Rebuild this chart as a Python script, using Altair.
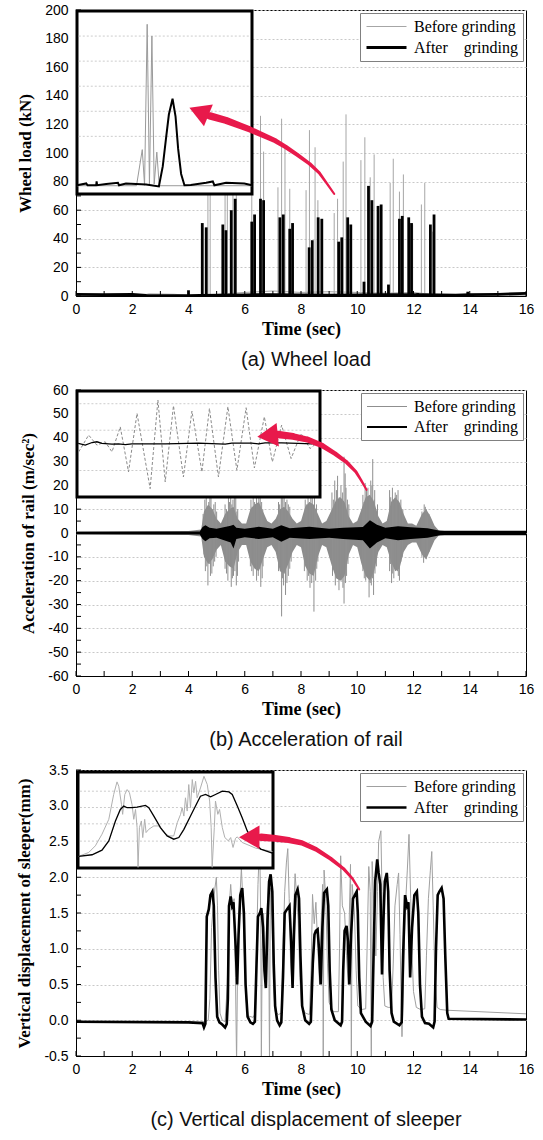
import altair as alt
import pandas as pd

W, H = 450, 286
S_BEFORE = "Before grinding"
S_AFTER = "After\u00a0\u00a0\u00a0\u00a0grinding"
SERIES = [S_BEFORE, S_AFTER]
RED = "#e8194b"

# ---------------- (a) wheel load ----------------
wl_after_spikes = [(4.49, 51), (4.63, 48), (5.22, 50), (5.33, 46), (5.52, 60), (5.66, 68),
                   (6.25, 52), (6.35, 57), (6.56, 68), (6.67, 67), (7.25, 55), (7.37, 57),
                   (7.6, 47), (7.7, 51), (8.29, 34), (8.4, 39), (8.61, 55), (8.74, 54),
                   (9.34, 38), (9.45, 41), (9.66, 55), (9.77, 50), (10.24, 10), (10.4, 77),
                   (10.52, 67), (10.74, 63), (10.85, 64), (11.11, 8), (11.5, 54), (11.6, 56),
                   (11.83, 55), (11.93, 51), (12.15, 2), (12.6, 50), (12.73, 57), (4.0, 4), (13.93, 3)]
wl_before_spikes = [(4.69, 115), (4.77, 125), (5.3, 110), (5.38, 118), (5.58, 100), (5.7, 92),
                    (6.25, 94), (6.56, 126), (6.67, 101), (7.18, 76), (7.31, 124), (7.43, 104),
                    (7.6, 75), (8.18, 74), (8.3, 116), (8.5, 104), (8.6, 67), (9.18, 58),
                    (9.3, 68), (9.5, 94), (9.6, 127), (10.13, 95), (10.27, 111), (10.46, 83),
                    (10.6, 99), (11.17, 79), (11.28, 96), (11.5, 73), (11.64, 85), (11.97, 50),
                    (12.28, 64), (12.4, 79), (12.68, 45)]
wl_after_base = [(0, 1.2), (1, 1.0), (2, 1.1), (2.5, 0.5), (3.5, 0.2), (4.0, 0.3), (4.4, 0.4),
                 (6.0, 0.8), (7, 1.0), (8, 0.8), (9, 0.6), (10, 0.8), (11, 0.9), (12, 1.0),
                 (12.9, 0.8), (13.5, 0.6), (14, 0.9), (15, 1.2), (16, 1.8)]
wl_before_base = [(0, 0.3), (2.3, 0.4), (2.6, 1.5), (3.5, 1.2), (4.0, 0.4), (4.6, 0.6), (6.0, 2.5),
                  (7.0, 3.5), (8.0, 2.5), (9.0, 3.0), (10.0, 2.5), (11, 2.0), (12, 2.5),
                  (12.8, 0.8), (16, 0.5)]
ia_before = [(0, 0.3), (34.0, 0.3), (37.3, 14.7), (38.6, 0.5), (40.1, 64.7), (41.4, 1.0),
             (42.8, 60.0), (44.1, 1.0), (45.6, 13.7), (47.0, 0.3), (100, 0.3)]
ia_after = [(0, 0.5), (5.3, 1.2), (6, 0.5), (11, 0.6), (11.2, 2.0), (11.5, 0.5), (16.7, 1.0),
            (23.4, 1.5), (24, 0.5), (28, 1.2), (39.5, 0.8), (46.8, 0.0), (49, 8), (51, 20),
            (52.5, 28.7), (54.6, 35), (56.3, 28), (57.8, 15), (59.5, 5), (61.4, 0.5), (65, 0.6),
            (73.8, 1.5), (77.6, 2.0), (78.5, 0.5), (85.2, 1.5), (95.6, 1.2), (100, 0.5)]
ia_grid = [10, 20, 30, 40, 50, 60]
arrow_a = [(9.18, 71.4, 2.0), (8.93, 78.4, 2.5), (8.65, 86.1, 3.0), (8.31, 92.4, 3.5), (7.87, 98.7, 4.0),
           (7.45, 104.3, 4.5), (7.09, 108.5, 5.0), (6.63, 112.6, 5.5), (6.18, 116.5, 6.0),
           (5.86, 118.9, 6.4), (5.33, 122.8, 7.0), (4.76, 125.9, 7.5)]
head_a = [(4.37, 129.0)]

# ---------------- (b) acceleration ----------------
acc_core_t = [0.0, 4.0, 4.45, 4.55, 4.7, 4.85, 5.0, 5.15, 5.3, 5.45, 5.6, 5.75, 5.9, 6.05, 6.2, 6.35,
              6.5, 6.65, 6.8, 6.95, 7.1, 7.25, 7.4, 7.55, 7.7, 7.85, 8.0, 8.15, 8.3, 8.45, 8.6, 8.75,
              8.9, 9.1, 9.25, 9.4, 9.55, 9.7, 9.85, 10.0, 10.15, 10.3, 10.45, 10.6, 10.75, 10.9,
              11.05, 11.2, 11.35, 11.5, 11.65, 11.8, 11.95, 12.1, 12.3, 12.45, 12.6, 12.75, 12.9, 13.0, 16.0]
acc_core_hi = [0.6, 0.8, 1.5, 9, 12, 10, 6, 4, 8, 10, 11, 6, 4, 4, 10, 12, 13, 9, 5, 4, 6, 10, 11, 9,
               6, 4, 5, 11, 13, 12, 8, 4, 5, 10, 14, 15, 13, 7, 4, 5, 10, 15, 16, 13, 7, 4, 5, 13, 15,
               13, 8, 4, 4, 3, 8, 10, 7, 3, 1, 0.6, 0.6]
acc_core_lo = [-0.6, -0.8, -1.5, -10, -13, -11, -7, -5, -12, -14, -15, -8, -5, -5, -12, -15, -16, -11,
               -6, -5, -8, -16, -17, -13, -8, -5, -6, -14, -17, -18, -10, -5, -6, -14, -19, -20, -18,
               -9, -5, -6, -13, -18, -20, -16, -8, -5, -6, -12, -16, -15, -8, -5, -4, -4, -9, -11,
               -7, -3, -1, -0.6, -0.6]
acc_spikes_up = [(4.58, 14), (4.63, 17), (4.72, 13), (4.8, 15), (4.9, 12), (5.0, 9), (5.3, 12),
                 (5.42, 16), (5.5, 18), (5.58, 14), (5.68, 15), (5.75, 10), (6.22, 14), (6.3, 16),
                 (6.42, 18), (6.5, 15), (6.6, 13), (7.2, 13), (7.3, 15), (7.4, 16), (7.5, 14),
                 (7.6, 11), (8.15, 14), (8.25, 16), (8.35, 17), (8.48, 15), (8.55, 12), (9.1, 17),
                 (9.2, 22), (9.3, 24), (9.42, 20), (9.53, 32), (9.6, 19), (9.7, 12), (10.2, 16),
                 (10.28, 21), (10.38, 19), (10.48, 22), (10.55, 31), (10.62, 18), (10.72, 12),
                 (11.15, 18), (11.25, 19), (11.35, 17), (11.45, 18), (11.55, 14), (11.62, 10),
                 (12.3, 9), (12.38, 12), (12.45, 10), (12.55, 8),
                 (4.52, 8), (4.67, 11), (4.76, 16), (4.85, 10), (4.95, 13), (5.35, 10), (5.46, 13),
                 (5.54, 12), (5.63, 17), (5.72, 9), (6.26, 11), (6.35, 13), (6.46, 12), (6.55, 17),
                 (6.64, 10), (7.24, 12), (7.35, 18), (7.45, 13), (7.55, 12), (8.19, 12), (8.3, 13),
                 (8.4, 19), (8.52, 10), (9.15, 14), (9.26, 18), (9.36, 15), (9.48, 17), (9.57, 25),
                 (9.65, 14), (10.24, 13), (10.33, 18), (10.44, 15), (10.52, 20), (10.6, 14),
                 (10.66, 10), (11.19, 15), (11.3, 13), (11.4, 16), (11.5, 12), (12.34, 8),
                 (12.42, 11), (12.5, 7)]
acc_spikes_dn = [(4.6, -16), (4.69, -22), (4.78, -18), (4.88, -14), (4.98, -10), (5.3, -15),
                 (5.4, -20), (5.52, -22.6), (5.6, -18), (5.7, -22), (5.78, -12), (6.2, -14),
                 (6.3, -18), (6.42, -20), (6.57, -22.6), (6.65, -14), (7.2, -16), (7.31, -35),
                 (7.38, -22), (7.45, -26), (7.55, -18), (7.65, -12), (8.12, -16), (8.22, -20),
                 (8.32, -23), (8.46, -33), (8.52, -20), (8.6, -12), (9.12, -18), (9.22, -22),
                 (9.35, -24), (9.45, -20), (9.53, -29.6), (9.62, -18), (10.2, -16), (10.3, -20),
                 (10.42, -27), (10.5, -22), (10.58, -26), (10.68, -14), (11.15, -16), (11.22, -21),
                 (11.3, -19), (11.43, -16), (11.5, -20), (11.6, -10), (12.3, -10), (12.36, -12.5),
                 (12.45, -11), (12.55, -8),
                 (4.55, -9), (4.65, -14), (4.74, -13), (4.83, -17), (4.93, -12), (5.35, -17),
                 (5.46, -13), (5.56, -19), (5.65, -16), (5.74, -18), (6.25, -16), (6.36, -13),
                 (6.48, -18), (6.53, -15), (6.62, -19), (7.24, -14), (7.34, -19), (7.42, -17),
                 (7.5, -21), (7.6, -15), (8.17, -13), (8.27, -18), (8.38, -21), (8.43, -17),
                 (8.56, -15), (9.17, -15), (9.28, -19), (9.4, -17), (9.49, -23), (9.58, -21),
                 (9.67, -13), (10.25, -19), (10.35, -17), (10.46, -21), (10.54, -19), (10.63, -17),
                 (11.18, -13), (11.26, -17), (11.35, -15), (11.46, -18), (11.55, -12), (12.33, -8),
                 (12.4, -10), (12.5, -9)]
acc_after_t = [0, 4.4, 4.5, 4.6, 4.75, 5.0, 5.5, 5.6, 5.7, 6.0, 6.5, 7.0, 7.3, 7.6, 8.3, 9.0, 9.5,
               10.2, 10.45, 10.7, 11.0, 11.45, 11.9, 12.5, 12.9, 13.1, 16]
acc_after_hi = [0.5, 0.6, 2.5, 3.2, 2.2, 1.8, 3.0, 3.5, 2.2, 1.8, 2.6, 1.8, 3.3, 2.0, 2.6, 1.8, 2.2,
                2.5, 5.4, 3.5, 2.2, 2.8, 2.4, 2.0, 1.0, 0.9, 0.9]
acc_after_lo = [-0.5, -0.6, -2.5, -3.5, -2.2, -2.0, -4.0, -6.5, -2.5, -1.8, -2.5, -1.8, -3.7, -2.0,
                -2.5, -2.0, -2.5, -3.0, -6.5, -4.0, -2.2, -3.0, -2.5, -2.0, -1.0, -0.9, -0.9]
ib_before = [(0.7, 42.6), (4.8, 58.4), (8.2, 48.9), (11.6, 52.1), (14.4, 42.6), (17.8, 66.2),
             (21.2, 23.7), (24.7, 78.9), (30.1, 7.9), (33.3, 91.5), (36.3, 14.2), (39.7, 86.1),
             (43.8, 18.9), (47.3, 81.1), (51.4, 23.7), (54.5, 83.6), (58.2, 18.9), (62.1, 85.2),
             (65.8, 25.2), (69.6, 84.2), (73.0, 27.4), (77.1, 75.7), (80.4, 33.1), (84.2, 67.8),
             (88.1, 36.3), (92.2, 59.9), (95.9, 45.7), (99.3, 52.0)]
ib_after = [(0.5, 50.5), (3.4, 48.9), (6.2, 51.4), (8.2, 52.1), (10.3, 50.5), (14.4, 49.8),
            (17.1, 50.2), (19.9, 49.5), (22.6, 50.2), (36.3, 50.2), (50.0, 50.8), (61.0, 49.8),
            (63.7, 50.8), (71.9, 50.8), (74.7, 50.2), (77.4, 51.1), (84.2, 51.1), (91.1, 50.5),
            (96.6, 50.2), (99.3, 52.1)]
ib_grid = [25, 63, 88]
arrow_b = [(10.33, 18.1, 2.0), (10.13, 22.3, 2.6), (9.95, 25.7, 3.2), (9.6, 29.9, 3.9), (9.21, 33.3, 4.6),
           (8.75, 36.7, 5.3), (8.23, 39.2, 6.0), (7.72, 40.5, 6.8), (7.18, 41.3, 7.5)]
head_b = [(6.81, 40.8)]

# ---------------- (c) displacement ----------------
disp_after = [(0, -0.02), (4.0, -0.03), (4.5, -0.04), (4.55, -0.1), (4.6, -0.05),
              (4.65, 1.45), (4.72, 1.55), (4.78, 1.75), (4.85, 1.8), (4.9, 1.6), (4.96, 0.6), (5.02, 0.05),
              (5.1, -0.03), (5.2, -0.06), (5.3, -0.1), (5.36, -0.05),
              (5.4, 0.3), (5.44, 1.6), (5.5, 1.73), (5.55, 1.6), (5.6, 1.65), (5.68, 1.0), (5.73, 0.5),
              (5.78, 1.2), (5.84, 1.75), (5.91, 1.85), (5.97, 1.5), (6.03, 0.5), (6.1, 0.05), (6.2, -0.03),
              (6.29, -0.05), (6.36, -0.02),
              (6.42, 0.8), (6.47, 1.45), (6.54, 1.5), (6.59, 1.57), (6.65, 1.3), (6.7, 0.7), (6.75, 0.45),
              (6.81, 1.4), (6.87, 1.95), (6.92, 2.04), (6.98, 1.8), (7.03, 0.8), (7.08, 0.2), (7.15, 0.0),
              (7.24, -0.07), (7.3, -0.03),
              (7.36, 0.6), (7.42, 1.5), (7.5, 1.55), (7.59, 1.6), (7.65, 1.1), (7.7, 0.45), (7.75, 1.2),
              (7.8, 1.75), (7.88, 1.83), (7.93, 1.7), (7.98, 0.9), (8.04, 0.2), (8.15, 0.0), (8.29, -0.05),
              (8.35, -0.02),
              (8.42, 0.8), (8.48, 1.2), (8.53, 1.25), (8.59, 1.27), (8.64, 1.0), (8.7, 0.5), (8.76, 1.3),
              (8.82, 1.78), (8.92, 1.83), (8.97, 1.6), (9.02, 0.7), (9.08, 0.15), (9.2, 0.0), (9.41, -0.07),
              (9.46, -0.02),
              (9.5, 0.7), (9.55, 1.25), (9.62, 1.32), (9.67, 1.1), (9.72, 0.5), (9.78, 1.2), (9.85, 1.7),
              (9.98, 1.8), (10.02, 1.5), (10.07, 0.6), (10.13, 0.1), (10.3, -0.02), (10.47, -0.08),
              (10.53, -0.02),
              (10.58, 0.9), (10.64, 1.95), (10.71, 2.25), (10.76, 2.06), (10.82, 1.9), (10.88, 0.64),
              (10.94, 1.5), (10.98, 1.94), (11.05, 2.06), (11.1, 1.8), (11.15, 0.7), (11.22, 0.1),
              (11.3, -0.02), (11.5, -0.07), (11.58, -0.03),
              (11.63, 0.9), (11.7, 1.75), (11.77, 1.6), (11.82, 1.65), (11.88, 0.6), (11.95, 1.3),
              (12.03, 1.75), (12.12, 1.8), (12.17, 1.5), (12.23, 0.5), (12.3, 0.05), (12.41, -0.04),
              (12.55, -0.05), (12.7, -0.1), (12.75, -0.02),
              (12.8, 1.0), (12.86, 1.75), (12.92, 1.8), (13.0, 1.85), (13.07, 1.7), (13.13, 0.9),
              (13.2, 0.1), (13.25, 0.02), (16, 0.01)]
disp_before = [(0, -0.02), (4.4, -0.03), (4.6, -0.02), (4.7, 0.0),
               (4.76, 0.3), (4.82, 1.3), (4.88, 1.6), (4.94, 1.85), (4.99, 2.0), (5.03, 1.6), (5.07, 0.7),
               (5.12, 0.1), (5.2, 0.0), (5.3, -0.02),
               (5.38, 0.5), (5.43, 1.5), (5.5, 1.9), (5.56, 1.55), (5.62, 1.7), (5.67, 0.6), (5.71, -0.6),
               (5.74, 0.6), (5.8, 1.5), (5.88, 2.13), (5.93, 1.7), (5.98, 1.0), (6.04, 0.3), (6.12, 0.06),
               (6.3, 0.04), (6.38, 0.1),
               (6.42, 1.0), (6.47, 1.9), (6.53, 2.5), (6.57, 1.4), (6.59, -0.6), (6.62, 1.0), (6.67, 1.5),
               (6.72, 0.6), (6.78, 1.4), (6.84, 1.95), (6.88, -0.6), (6.91, 1.85), (6.97, 1.4), (7.02, 0.5),
               (7.08, 0.12), (7.2, 0.08), (7.3, 0.1),
               (7.36, 1.0), (7.42, 1.8), (7.48, 2.2), (7.53, 2.4), (7.58, 1.7), (7.63, 0.8), (7.68, 0.5),
               (7.73, 1.4), (7.79, 2.05), (7.85, 1.7), (7.9, 1.4), (7.96, 0.6), (8.02, 0.2), (8.15, 0.1),
               (8.3, 0.08),
               (8.36, 0.7), (8.41, 1.76), (8.47, 1.35), (8.53, 1.65), (8.6, 1.0), (8.66, 0.5), (8.72, 1.4),
               (8.77, 1.9), (8.79, -0.6), (8.82, 2.1), (8.88, 1.7), (8.94, 0.8), (9.0, 0.25), (9.15, 0.12),
               (9.33, 0.12),
               (9.37, 1.0), (9.41, 2.3), (9.47, 1.6), (9.55, 1.5), (9.62, 0.9), (9.68, 0.5), (9.72, 1.5),
               (9.76, 2.18), (9.79, -0.6), (9.82, 1.9), (9.9, 1.5), (9.96, 0.7), (10.02, 0.2), (10.15, 0.15),
               (10.3, 0.16),
               (10.35, 1.0), (10.41, 2.15), (10.46, 1.8), (10.5, -0.6), (10.53, 2.22), (10.6, 1.5),
               (10.66, 0.9), (10.72, 1.8), (10.76, 2.5), (10.84, 2.65), (10.88, 1.8), (10.92, 0.6),
               (10.98, 0.2), (11.1, 0.18), (11.22, 0.18),
               (11.28, 0.8), (11.34, 1.6), (11.42, 1.9), (11.47, 2.06), (11.52, 1.2), (11.56, 0.3),
               (11.59, -0.23), (11.63, 0.3), (11.7, 1.5), (11.78, 2.1), (11.84, 2.6), (11.9, 1.7),
               (11.95, 0.9), (12.0, 0.4), (12.1, 0.18), (12.25, 0.15), (12.4, 0.16),
               (12.46, 0.9), (12.53, 1.7), (12.6, 2.1), (12.65, 2.36), (12.7, 1.6), (12.76, 0.6),
               (12.84, 0.18), (12.95, 0.15), (13.2, 0.14), (16, 0.09)]
ic_after = [(0.3, 12.1), (7.2, 13.8), (12.3, 18.6), (15.8, 28.3), (19.2, 49), (21.7, 61), (23.5, 64.5),
            (25.2, 62.8), (27.7, 62.8), (30.3, 63.4), (34.6, 65.2), (36.3, 62.8), (38.9, 54.1),
            (42.3, 42.1), (45.7, 33.4), (49.1, 30), (51.7, 31.7), (54.3, 40.3), (57.7, 54.1),
            (61.1, 67.9), (62.8, 74.8), (65.4, 76.6), (68.0, 74.1), (70.5, 76.6), (74.0, 80),
            (77.4, 79.3), (79.1, 76.6), (81.7, 64.5), (84.2, 52.4), (86.8, 38.6), (90.2, 26.6),
            (93.7, 19.7), (99.7, 15.5)]
ic_before = [(0.3, 12.1), (5.5, 16.2), (8.9, 23.1), (12.3, 35.2), (15.8, 50.7), (18.3, 76.6),
             (20.0, 89.7), (20.9, 85.2), (22.3, 66.2), (22.9, 55.9), (24.0, 76.6), (25.2, 81.7),
             (26.4, 78.3), (27.7, 66.2), (28.6, 50.7), (29.5, 61), (30.3, 42.1), (30.8, 0.7),
             (31.5, 42.1), (32.5, 49), (33.2, 31.7), (34.2, 50.7), (34.9, 36.9), (36.3, 40.3),
             (38.9, 43.8), (41.4, 43.8), (44.0, 36.9), (46.6, 33.4), (49.1, 33.4), (50.9, 47.2),
             (52.6, 55.9), (53.4, 62.8), (54.3, 54.1), (55.1, 73.1), (56.0, 59.3), (56.8, 86.9),
             (57.7, 62.8), (58.6, 92.1), (59.4, 78.3), (60.3, 90.3), (61.1, 73.1), (62.8, 83.4),
             (64.6, 95.5), (66.3, 86.9), (67.5, 69.7), (68.3, 42.1), (68.8, 0.7), (69.9, 42.1),
             (70.5, 69.7), (71.7, 55.9), (72.6, 61), (74.0, 42.1), (75.3, 31.7), (77.1, 28.3),
             (78.3, 31.7), (79.5, 21.4), (80.8, 31), (81.7, 32.4), (84.2, 26.6), (91.1, 20.7),
             (99.7, 17.2)]
ic_grid = [28, 46, 63, 80]
arrow_c = [(10.07, 1.83, 2.0), (9.83, 1.98, 2.6), (9.51, 2.12, 3.2), (9.05, 2.26, 3.9), (8.54, 2.39, 4.6),
           (8.03, 2.48, 5.3), (7.56, 2.52, 6.0), (7.08, 2.545, 6.8), (6.59, 2.56, 7.5)]
head_c = [(6.16, 2.56)]

X_LABELS = list(range(0, 17, 2))
X_TICKS = list(range(0, 17))


def pts(pairs, series=None, cols=("t", "v")):
    df = pd.DataFrame(pairs, columns=list(cols))
    if series is not None:
        df["series"] = series
    return df


def legend():
    return alt.Legend(title=None, orient="top-right", offset=3, strokeColor="#808080",
                      fillColor="white", padding=5, labelFont="Liberation Serif",
                      labelFontSize=16, labelColor="black", symbolType="M-1,0H4",
                      symbolSize=256, rowPadding=3, labelOffset=30, labelLimit=400)


def enc_color(grey):
    return alt.Color("series:N", scale=alt.Scale(domain=SERIES, range=[grey, "#000000"]), legend=legend())


def enc_sw(thick):
    return alt.StrokeWidth("series:N", scale=alt.Scale(domain=SERIES, range=[1.0, thick]), legend=legend())


def make_xy(ydom, ytitle, yvals, yfmt):
    xs = alt.Scale(domain=[0, 16], nice=False, zero=False)
    xa = alt.Axis(title="Time (sec)", values=X_LABELS, grid=False, ticks=False, labelFlush=False,
                  labelOverlap=False, labelPadding=6, titlePadding=4)
    ys = alt.Scale(domain=ydom, nice=False, zero=False)
    ya = alt.Axis(title=ytitle, values=yvals, grid=True, ticks=False, labelFlush=False,
                  labelOverlap=False, labelPadding=8, titlePadding=10, format=yfmt,
                  labelExpr="replace(datum.label, '\u2212', '-')")
    X = lambda f="t": alt.X(f"{f}:Q", scale=xs, axis=xa)
    Y = lambda f="v": alt.Y(f"{f}:Q", scale=ys, axis=ya)
    return X, Y


def tick_layers(X, Y, yticks):
    xt = alt.Chart(pd.DataFrame({"t": X_TICKS})).mark_rule(color="black", strokeWidth=1).encode(
        x=X(), y=alt.value(H), y2=alt.value(H - 5))
    yt = alt.Chart(pd.DataFrame({"v": yticks})).mark_rule(color="black", strokeWidth=1).encode(
        y=Y(), x=alt.value(0), x2=alt.value(5))
    return [xt, yt]


def inset_enc(xr, ydom, yr):
    xs = alt.Scale(domain=[0, 100], range=xr, nice=False, zero=False)
    ys = alt.Scale(domain=ydom, range=yr, nice=False, zero=False)
    XI = lambda f="xi": alt.X(f"{f}:Q", scale=xs, axis=None)
    YI = lambda f="yi": alt.Y(f"{f}:Q", scale=ys, axis=None)
    return XI, YI


def inset_frame(XI, YI, ydom, grid):
    box = alt.Chart(pd.DataFrame({"xi": [0], "xi2": [100], "yi": [ydom[0]], "yi2": [ydom[1]]})).mark_rect(
        fill="white", stroke="black", strokeWidth=3).encode(x=XI(), x2="xi2:Q", y=YI(), y2="yi2:Q")
    g = alt.Chart(pd.DataFrame({"xi": [1.0] * len(grid), "xi2": [99.0] * len(grid), "yi": grid})).mark_rule(
        color="#cccccc", strokeDash=[2, 2], strokeWidth=1).encode(x=XI(), x2="xi2:Q", y=YI())
    return [box, g]


def arrow_layers(trail, head, ydom, angle):
    xs = alt.Scale(domain=[0, 16], nice=False, zero=False)
    ys = alt.Scale(domain=ydom, nice=False, zero=False)
    df = pd.DataFrame(trail, columns=["t", "v", "w"])
    df["i"] = range(len(df))
    tr = alt.Chart(df).mark_trail(color=RED).encode(
        x=alt.X("t:Q", scale=xs, axis=None), y=alt.Y("v:Q", scale=ys, axis=None),
        size=alt.Size("w:Q", scale=None, legend=None), order="i:Q")
    hd = alt.Chart(pts(head)).mark_point(shape="triangle-up", filled=True, color=RED, opacity=1,
                                         size=560, angle=angle).encode(
        x=alt.X("t:Q", scale=xs, axis=None), y=alt.Y("v:Q", scale=ys, axis=None))
    return [tr, hd]


def panel(main, inset, arrow, caption):
    return alt.layer(alt.layer(*main), alt.layer(*inset), alt.layer(*arrow)).resolve_scale(
        x="independent", y="independent").properties(
        width=W, height=H,
        title=alt.TitleParams(caption, orient="bottom", font="Liberation Sans", fontSize=20,
                              fontWeight="normal", color="#111111", offset=12, anchor="middle", dx=5))


# ---- panel a ----
Xa, Ya = make_xy([0, 200], "Wheel load (kN)", list(range(0, 201, 20)), "d")
Ca, SWa = enc_color("#a6a6a6"), enc_sw(2.8)
a_main = [
    alt.Chart(pts(wl_before_base, S_BEFORE)).mark_line().encode(x=Xa(), y=Ya(), color=Ca, strokeWidth=SWa),
    alt.Chart(pts(wl_before_spikes, S_BEFORE)).mark_rule().encode(x=Xa(), y=Ya(), y2=alt.datum(0), color=Ca, strokeWidth=SWa),
    alt.Chart(pts(wl_after_base, S_AFTER)).mark_line().encode(x=Xa(), y=Ya(), color=Ca, strokeWidth=SWa),
    alt.Chart(pts(wl_after_spikes, S_AFTER)).mark_rule().encode(x=Xa(), y=Ya(), y2=alt.datum(0), color=Ca, strokeWidth=SWa),
] + tick_layers(Xa, Ya, list(range(0, 201, 10)))
XIa, YIa = inset_enc([1, 176], [-3, 70], [184, 1])
a_inset = inset_frame(XIa, YIa, [-3, 70], ia_grid) + [
    alt.Chart(pts(ia_before, cols=("xi", "yi"))).mark_line(color="#9a9a9a", strokeWidth=1).encode(x=XIa(), y=YIa()),
    alt.Chart(pts(ia_after, cols=("xi", "yi"))).mark_line(color="black", strokeWidth=2).encode(x=XIa(), y=YIa()),
]
a_arrow = arrow_layers(arrow_a, head_a, [0, 200], 292)
pa = panel(a_main, a_inset, a_arrow, "(a) Wheel load")

# ---- panel b ----
Xb, Yb = make_xy([-60, 60], "Acceleration of rail (m/sec\u00b2)", list(range(-60, 61, 10)), "d")
Cb, SWb = enc_color("#8f8f8f"), enc_sw(2.0)
core = pd.DataFrame({"t": acc_core_t, "v": acc_core_hi, "lo": acc_core_lo})
aft = pd.DataFrame({"t": acc_after_t, "v": acc_after_hi, "lo": acc_after_lo})
b_main = [
    alt.Chart(core).mark_area(color="#8c8c8c").encode(x=Xb(), y=Yb(), y2="lo:Q"),
    alt.Chart(pts(acc_spikes_up, S_BEFORE)).mark_rule().encode(x=Xb(), y=Yb(), y2=alt.datum(0), color=Cb, strokeWidth=SWb),
    alt.Chart(pts(acc_spikes_dn, S_BEFORE)).mark_rule().encode(x=Xb(), y=Yb(), y2=alt.datum(0), color=Cb, strokeWidth=SWb),
    alt.Chart(aft).mark_area(color="#000000").encode(x=Xb(), y=Yb(), y2="lo:Q"),
] + tick_layers(Xb, Yb, list(range(-60, 61, 5)))
XIb, YIb = inset_enc([1, 244], [0, 100], [107, 1])
b_inset = inset_frame(XIb, YIb, [0, 100], ib_grid) + [
    alt.Chart(pts(ib_before, cols=("xi", "yi"))).mark_line(color="#8a8a8a", strokeWidth=1, strokeDash=[3, 2]).encode(x=XIb(), y=YIb()),
    alt.Chart(pts(ib_after, cols=("xi", "yi"))).mark_line(color="black", strokeWidth=1.3).encode(x=XIb(), y=YIb()),
]
b_arrow = arrow_layers(arrow_b, head_b, [-60, 60], 264.5)
pb = panel(b_main, b_inset, b_arrow, "(b) Acceleration of rail")

# ---- panel c ----
Xc, Yc = make_xy([-0.5, 3.5], "Vertical displacement of sleeper(mm)", [-0.5, 0, 0.5, 1, 1.5, 2, 2.5, 3, 3.5], ".1f")
Cc, SWc = enc_color("#a0a0a0"), enc_sw(2.6)
c_main = [
    alt.Chart(pts(disp_before, S_BEFORE)).mark_line(clip=True).encode(x=Xc(), y=Yc(), color=Cc, strokeWidth=SWc),
    alt.Chart(pts(disp_after, S_AFTER)).mark_line(clip=True).encode(x=Xc(), y=Yc(), color=Cc, strokeWidth=SWc),
] + tick_layers(Xc, Yc, [-0.5 + 0.25 * k for k in range(17)])
XIc, YIc = inset_enc([2, 197], [0, 100], [98, 2])
c_inset = inset_frame(XIc, YIc, [0, 100], ic_grid) + [
    alt.Chart(pts(ic_before, cols=("xi", "yi"))).mark_line(color="#b0b0b0", strokeWidth=1).encode(x=XIc(), y=YIc()),
    alt.Chart(pts(ic_after, cols=("xi", "yi"))).mark_line(color="black", strokeWidth=1.3).encode(x=XIc(), y=YIc()),
]
c_arrow = arrow_layers(arrow_c, head_c, [-0.5, 3.5], 270)
pc = panel(c_main, c_inset, c_arrow, "(c) Vertical displacement of sleeper")

chart = alt.vconcat(pa, pb, pc, spacing=11).resolve_scale(
    color="independent", strokeWidth="independent").properties(
    padding={"left": 15, "top": 2, "right": 5, "bottom": 0}).configure_view(
    stroke="black", strokeWidth=1).configure_axis(
    labelFont="Liberation Sans", labelFontSize=14, labelColor="black", titleFont="Liberation Serif",
    titleFontWeight="bold", titleColor="black", domainColor="black", domainWidth=1,
    gridColor="#c8c8c8", gridDash=[2, 2], gridWidth=1).configure_axisX(titleFontSize=18).configure_axisY(
    titleFontSize=17)

chart.save("out.html", embed_options={"renderer": "svg", "actions": False})
